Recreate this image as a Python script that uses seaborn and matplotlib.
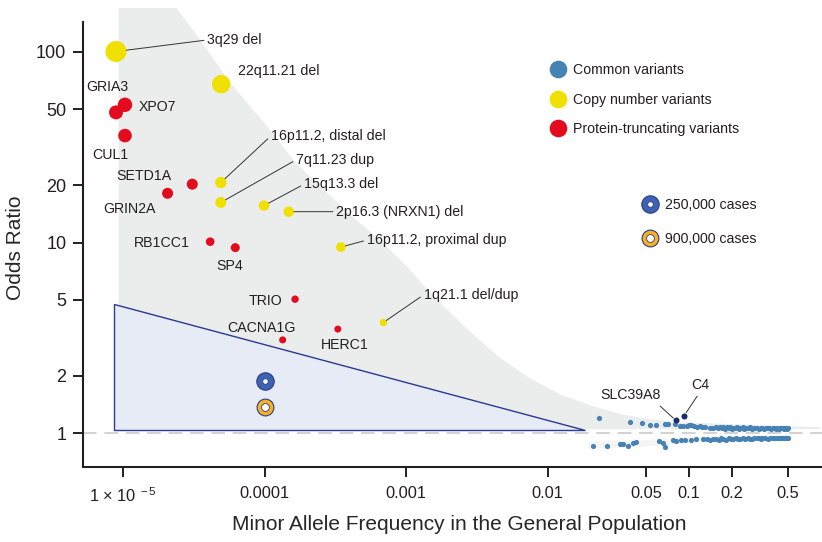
import numpy as np
import pandas as pd
import seaborn as sns
import matplotlib.pyplot as plt
from matplotlib.lines import Line2D
from matplotlib.legend_handler import HandlerTuple

# copy number variants
cnv_names = ['3q29 del', '22q11.21 del', '16p11.2, distal del', '7q11.23 dup', '15q13.3 del',
             '2p16.3 (NRXN1) del', '16p11.2, proximal dup', '1q21.1 del/dup']
cnv_maf = [8.9e-6, 4.93e-5, 4.9e-5, 4.9e-5, 9.9e-5, 1.48e-4, 3.46e-4, 6.9e-4]
cnv_or = [100, 67.5, 20.6, 16.2, 15.6, 14.5, 9.46, 3.81]
cnv_size = [10.5, 9.2, 5.7, 5.5, 5.2, 5.2, 4.8, 3.7]

# protein-truncating variants
ptv_names = ['GRIA3', 'XPO7', 'CUL1', 'SETD1A', 'GRIN2A', 'RB1CC1', 'SP4', 'TRIO', 'CACNA1G', 'HERC1']
ptv_maf = [8.9e-6, 1.03e-5, 1.03e-5, 3.08e-5, 2.06e-5, 4.12e-5, 6.2e-5, 1.64e-4, 1.34e-4, 3.29e-4]
ptv_or = [48, 52.6, 36.3, 20.2, 18.1, 10.1, 9.4, 5.05, 3.09, 3.52]
ptv_size = [7.0, 7.2, 6.8, 5.5, 5.5, 4.3, 4.5, 3.7, 3.5, 3.5]

# common variants (risk side / protective side)
common_up_maf = [0.0232, 0.0383, 0.0463, 0.053, 0.0584, 0.068, 0.071, 0.0795, 0.086, 0.09,
                 0.096, 0.1, 0.104, 0.108, 0.113, 0.12, 0.123, 0.129, 0.14, 0.148,
                 0.155, 0.16, 0.165, 0.17, 0.175, 0.18, 0.186, 0.19, 0.195, 0.2,
                 0.205, 0.21, 0.218, 0.225, 0.23, 0.24, 0.245, 0.25, 0.26, 0.265,
                 0.27, 0.28, 0.29, 0.3, 0.31, 0.32, 0.33, 0.34, 0.35, 0.36,
                 0.37, 0.38, 0.39, 0.4, 0.41, 0.42, 0.43, 0.44, 0.45, 0.46,
                 0.47, 0.48, 0.49, 0.5]
common_up_or = [1.198, 1.142, 1.136, 1.11, 1.108, 1.115, 1.12, 1.126, 1.10, 1.088,
                1.095, 1.104, 1.112, 1.09, 1.085, 1.095, 1.08, 1.075, 1.07, 1.072,
                1.082, 1.065, 1.078, 1.07, 1.085, 1.06, 1.075, 1.068, 1.08, 1.058,
                1.072, 1.065, 1.078, 1.06, 1.07, 1.075, 1.058, 1.068, 1.062, 1.072,
                1.078, 1.06, 1.066, 1.07, 1.058, 1.064, 1.072, 1.06, 1.068, 1.062,
                1.07, 1.058, 1.066, 1.072, 1.06, 1.064, 1.056, 1.068, 1.062, 1.07,
                1.058, 1.066, 1.06, 1.064]
common_down_maf = [0.0211, 0.0262, 0.0325, 0.0343, 0.0372, 0.0403, 0.0424, 0.0617, 0.0656, 0.0673,
                   0.0766, 0.0806, 0.0873, 0.0942, 0.103, 0.112, 0.125, 0.133, 0.14, 0.148,
                   0.155, 0.162, 0.168, 0.175, 0.182, 0.19, 0.198, 0.205, 0.213, 0.22,
                   0.23, 0.24, 0.25, 0.26, 0.27, 0.28, 0.29, 0.3, 0.31, 0.32,
                   0.33, 0.345, 0.36, 0.375, 0.39, 0.4, 0.415, 0.43, 0.445, 0.46,
                   0.475, 0.49, 0.5]
common_down_or = [0.862, 0.862, 0.883, 0.883, 0.862, 0.891, 0.897, 0.916, 0.891, 0.849,
                  0.923, 0.908, 0.923, 0.927, 0.93, 0.935, 0.932, 0.938, 0.928, 0.94,
                  0.935, 0.93, 0.942, 0.936, 0.93, 0.944, 0.938, 0.932, 0.946, 0.94,
                  0.934, 0.944, 0.938, 0.948, 0.94, 0.935, 0.946, 0.942, 0.95, 0.938,
                  0.944, 0.948, 0.94, 0.946, 0.952, 0.942, 0.948, 0.944, 0.95, 0.946,
                  0.952, 0.944, 0.948]

# highlighted common loci
hit_names = ['SLC39A8', 'C4']
hit_maf = [0.0806, 0.0923]
hit_or = [1.17, 1.24]

# detectable effect for sample sizes
cases_labels = ['250,000 cases', '900,000 cases']
cases_maf = [1e-4, 1e-4]
cases_or = [1.89, 1.38]

# grey band (reachable so far) and blue triangle (future studies)
band_maf = [9.2e-6, 2.0e-5, 3.5e-5, 5.7e-5, 1.09e-4, 1.59e-4, 2.47e-4, 4.22e-4, 6.55e-4, 1.02e-3,
            1.41e-3, 1.74e-3, 2.83e-3, 4.61e-3, 7.51e-3, 0.01225, 0.02, 0.0325, 0.053, 0.0863,
            0.843]
band_upper = [200, 200, 115, 68.6, 38.9, 27.1, 19.6, 13.6, 10.3, 7.46,
              5.65, 4.83, 3.41, 2.49, 1.95, 1.61, 1.41, 1.27, 1.19, 1.15,
              1.084]
prot_band_maf = [0.019, 0.05, 0.12, 0.5]
prot_band_upper = [0.905, 0.93, 0.955, 0.965]
prot_band_lower = [0.84, 0.86, 0.905, 0.925]
tri_maf = [8.6e-6, 8.6e-6, 0.0184]
tri_or = [4.78, 1.045, 1.045]

x_ticks = [1e-5, 1e-4, 1e-3, 0.01, 0.05, 0.1, 0.2, 0.5]
x_ticklabels = [r'1 × 10$^{\mathregular{\ -5}}$', '0.0001', '0.001', '0.01', '0.05', '0.1', '0.2', '0.5']
y_ticks = [1, 2, 5, 10, 20, 50, 100]

# label placement (data coords): (x, y, ha, draw line)
label_pos = {
    '3q29 del': (3.93e-5, 115, 'left', True),
    '22q11.21 del': (6.43e-5, 78.6, 'left', False),
    '16p11.2, distal del': (1.11e-4, 36.2, 'left', True),
    '7q11.23 dup': (1.67e-4, 27.1, 'left', True),
    '15q13.3 del': (1.9e-4, 20.2, 'left', True),
    '2p16.3 (NRXN1) del': (3.2e-4, 14.5, 'left', True),
    '16p11.2, proximal dup': (5.27e-4, 10.3, 'left', True),
    '1q21.1 del/dup': (1.33e-3, 5.32, 'left', True),
    'GRIA3': (7.69e-6, 65.1, 'center', False),
    'XPO7': (1.28e-5, 51.5, 'left', False),
    'CUL1': (8.13e-6, 28.8, 'center', False),
    'SETD1A': (1.39e-5, 22.4, 'center', False),
    'GRIN2A': (1.11e-5, 15.0, 'center', False),
    'RB1CC1': (1.87e-5, 9.93, 'center', False),
    'SP4': (5.67e-5, 7.49, 'center', False),
    'TRIO': (1.01e-4, 4.95, 'center', False),
    'CACNA1G': (9.55e-5, 3.56, 'center', False),
    'HERC1': (3.71e-4, 2.91, 'center', False),
}
hit_label_pos = {'SLC39A8': (0.0383, 1.595, (0.92, 0.0)), 'C4': (0.1197, 1.80, (0.5, 0.0))}

YELLOW = '#efe000'
RED = '#e30b1d'
BLUE = '#4682b4'
NAVY = '#1c2a6e'
TXT = '#231f20'

sns.set_style('ticks')
plt.rcParams['font.family'] = ['Liberation Sans', 'DejaVu Sans']
plt.rcParams['mathtext.fontset'] = 'custom'
plt.rcParams['mathtext.rm'] = 'Liberation Sans'
plt.rcParams['mathtext.it'] = 'Liberation Sans'
plt.rcParams['text.color'] = TXT

fig = plt.figure(figsize=(8.22, 5.42), dpi=100)
ax = fig.add_axes([83 / 822, 75.3 / 542, 739 / 822, 458.7 / 542])
ax.set_xscale('log')
ax.set_yscale('log')


def pt_area(r_px):
    # marker radius in pixels -> scatter area in pt^2
    return (2 * np.asarray(r_px) * 0.72) ** 2


ax.fill_between(band_maf, 1.06, band_upper, color='#ebecec', lw=0, zorder=0)
ax.fill_between(prot_band_maf, prot_band_lower, prot_band_upper, color='#f5f5f5', lw=0, zorder=0)
ax.fill(tri_maf, tri_or, facecolor='#e7ebf5', edgecolor='#2b3a92', lw=1.0, zorder=1)
ax.axhline(1, color='#d2d2d2', lw=1.4, dashes=(7, 4), zorder=1.5)

common = pd.DataFrame({'maf': common_up_maf + common_down_maf,
                       'or': common_up_or + common_down_or})
sns.scatterplot(data=common, x='maf', y='or', color=BLUE, s=pt_area(2.6), linewidth=0,
                ax=ax, zorder=3, legend=False)
hits = pd.DataFrame({'maf': hit_maf, 'or': hit_or})
sns.scatterplot(data=hits, x='maf', y='or', color=NAVY, s=pt_area(3.0), linewidth=0,
                ax=ax, zorder=4, legend=False)

ptv = pd.DataFrame({'maf': ptv_maf, 'or': ptv_or, 'r': ptv_size})
sns.scatterplot(data=ptv, x='maf', y='or', color=RED, s=pt_area(ptv.r), linewidth=0,
                ax=ax, zorder=3, legend=False)
cnv = pd.DataFrame({'maf': cnv_maf, 'or': cnv_or, 'r': cnv_size})
sns.scatterplot(data=cnv, x='maf', y='or', color=YELLOW, s=pt_area(cnv.r), linewidth=0,
                ax=ax, zorder=3, legend=False)

# sample size rings
ring_face = ['#3d62b0', '#f6b21f']
ring_outer = [8.7, 8.4]
ring_inner = [2.8, 3.9]
for i in range(2):
    ax.scatter(cases_maf[i], cases_or[i], s=pt_area(ring_outer[i]), color=ring_face[i],
               edgecolor='#2b3a92', linewidth=0.8, zorder=4)
    ax.scatter(cases_maf[i], cases_or[i], s=pt_area(ring_inner[i]), color='white',
               edgecolor='#2b3a92', linewidth=0.6, zorder=5)

# labels
fs = 10.2
for name, x, y, r in list(zip(cnv_names, cnv_maf, cnv_or, cnv_size)) + \
        list(zip(ptv_names, ptv_maf, ptv_or, ptv_size)):
    tx, ty, ha, line = label_pos[name]
    if line:
        ax.annotate(name, xy=(x, y), xytext=(tx, ty), ha=ha, va='center', fontsize=fs,
                    arrowprops=dict(arrowstyle='-', color='#333333', lw=0.7, shrinkA=0,
                                    shrinkB=r * 0.72, relpos=(0, 0.5)), zorder=6)
    else:
        ax.text(tx, ty, name, ha=ha, va='center', fontsize=fs, zorder=6)

for name, x, y in zip(hit_names, hit_maf, hit_or):
    tx, ty, rel = hit_label_pos[name]
    ax.annotate(name, xy=(x, y), xytext=(tx, ty), ha='center', va='center', fontsize=fs,
                arrowprops=dict(arrowstyle='-', color='#333333', lw=0.7, shrinkA=1,
                                shrinkB=2.5, relpos=rel), zorder=6)

# legends
h1 = [Line2D([], [], ls='', marker='o', markersize=12.7, markerfacecolor=c, markeredgewidth=0)
      for c in [BLUE, YELLOW, RED]]
leg1 = ax.legend(h1, ['Common variants', 'Copy number variants', 'Protein-truncating variants'],
                 loc='upper left', bbox_to_anchor=(0.633, 0.880), frameon=False, fontsize=fs,
                 handlelength=1.0, handletextpad=0.6, labelspacing=1.1, borderpad=0,
                 borderaxespad=0)
ax.add_artist(leg1)
h2 = []
for i in range(2):
    outer = Line2D([], [], ls='', marker='o', markersize=2 * ring_outer[i] * 0.72,
                   markerfacecolor=ring_face[i], markeredgecolor='#2b3a92', markeredgewidth=0.8)
    inner = Line2D([], [], ls='', marker='o', markersize=2 * ring_inner[i] * 0.72,
                   markerfacecolor='white', markeredgecolor='#2b3a92', markeredgewidth=0.6)
    h2.append((outer, inner))
ax.legend(h2, cases_labels, handler_map={tuple: HandlerTuple(ndivide=1, pad=0)},
          loc='upper left', bbox_to_anchor=(0.757, 0.586), frameon=False, fontsize=fs,
          handlelength=1.0, handletextpad=0.6, labelspacing=1.42, borderpad=0, borderaxespad=0)

# axes styling
ax.set_xlim(5.2e-6, 0.87)
ax.set_ylim(0.67, 169)
ax.minorticks_off()
ax.set_xticks(x_ticks)
ax.set_xticklabels(x_ticklabels)
ax.set_yticks(y_ticks)
ax.set_yticklabels([str(v) for v in y_ticks])
ax.tick_params(axis='both', length=7, width=1.4, colors=TXT, labelsize=11.8)
ax.tick_params(axis='x', pad=7)
ax.tick_params(axis='y', pad=5, labelsize=13)
for side in ['top', 'right']:
    ax.spines[side].set_visible(False)
for side in ['left', 'bottom']:
    ax.spines[side].set_linewidth(1.5)
    ax.spines[side].set_color(TXT)
ax.spines['left'].set_bounds(0.67, 142)
ax.set_xlabel('Minor Allele Frequency in the General Population', fontsize=15)
ax.set_ylabel('Odds Ratio', fontsize=15)
ax.xaxis.set_label_coords(0.509, -0.105)
ax.yaxis.set_label_coords(-0.078, 0.477)

fig.savefig('out.png', dpi=100)
